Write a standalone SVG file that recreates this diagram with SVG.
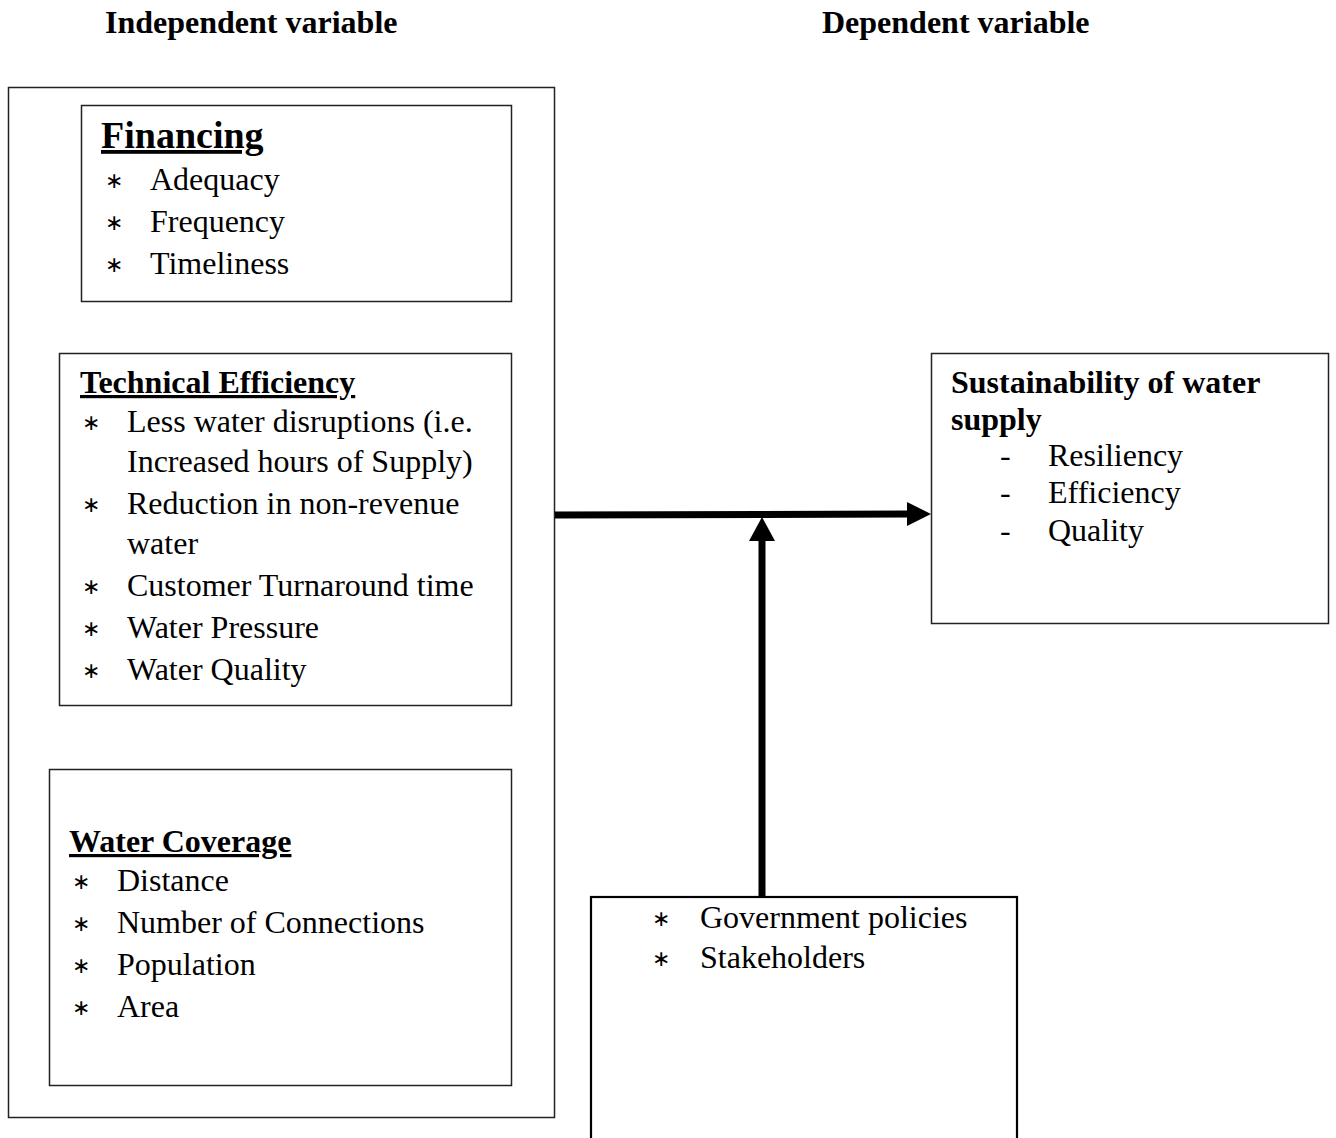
<svg xmlns="http://www.w3.org/2000/svg" width="1336" height="1138" viewBox="0 0 1336 1138">
<style>
text{font-family:"Liberation Serif","Times New Roman",serif;fill:#000}
.t{font-size:32px}
.s{font-size:22px}
.h{font-size:32px;font-weight:bold}
.u{font-weight:bold;text-decoration:underline}
.box{fill:#fff;stroke:#222;stroke-width:1.5}
.mbox{fill:#fff;stroke:#000;stroke-width:2.2}
.conn{stroke:#000;stroke-width:7;fill:none}
</style>
<rect width="1336" height="1138" fill="#fff"/>
<text class="h" x="105" y="33">Independent variable</text>
<text class="h" x="822" y="33">Dependent variable</text>
<g id="independent">
<rect class="box" x="8.5" y="87.5" width="546" height="1030"/>
<g id="financing">
<rect class="box" x="81.5" y="105.5" width="430" height="196"/>
<text class="u" x="101" y="148" font-size="38">Financing</text>
<text class="s" x="105" y="188">∗</text><text class="t" x="150" y="190">Adequacy</text>
<text class="s" x="105" y="230">∗</text><text class="t" x="150" y="232">Frequency</text>
<text class="s" x="105" y="272">∗</text><text class="t" x="150" y="274">Timeliness</text>
</g>
<g id="technical">
<rect class="box" x="59.5" y="353.5" width="452" height="352"/>
<text class="u" x="80" y="393" font-size="32">Technical Efficiency</text>
<text class="s" x="82" y="430">∗</text><text class="t" x="127" y="432">Less water disruptions (i.e.</text>
<text class="t" x="127" y="472">Increased hours of Supply)</text>
<text class="s" x="82" y="512">∗</text><text class="t" x="127" y="514">Reduction in non-revenue</text>
<text class="t" x="127" y="554">water</text>
<text class="s" x="82" y="594">∗</text><text class="t" x="127" y="596">Customer Turnaround time</text>
<text class="s" x="82" y="636">∗</text><text class="t" x="127" y="638">Water Pressure</text>
<text class="s" x="82" y="678">∗</text><text class="t" x="127" y="680">Water Quality</text>
</g>
<g id="coverage">
<rect class="box" x="49.5" y="769.5" width="462" height="316"/>
<text class="u" x="69" y="852" font-size="32">Water Coverage</text>
<text class="s" x="72" y="889">∗</text><text class="t" x="117" y="891">Distance</text>
<text class="s" x="72" y="931">∗</text><text class="t" x="117" y="933">Number of Connections</text>
<text class="s" x="72" y="973">∗</text><text class="t" x="117" y="975">Population</text>
<text class="s" x="72" y="1015">∗</text><text class="t" x="117" y="1017">Area</text>
</g>
</g>
<g id="dependent">
<rect class="box" x="931.5" y="353.5" width="397" height="270"/>
<text class="h" x="951" y="393">Sustainability of water</text>
<text class="h" x="951" y="430">supply</text>
<text class="t" x="1000" y="466">-</text><text class="t" x="1048" y="466">Resiliency</text>
<text class="t" x="1000" y="503">-</text><text class="t" x="1048" y="503">Efficiency</text>
<text class="t" x="1000" y="541">-</text><text class="t" x="1048" y="541">Quality</text>
</g>
<g id="moderating">
<rect class="mbox" x="591" y="897" width="426" height="260"/>
<text class="s" x="652" y="926">∗</text><text class="t" x="700" y="928">Government policies</text>
<text class="s" x="652" y="966">∗</text><text class="t" x="700" y="968">Stakeholders</text>
</g>
<g id="connectors">
<line class="conn" x1="555" y1="515" x2="909" y2="514"/>
<polygon points="907,502 931,514 907,526" fill="#000"/>
<line class="conn" x1="762" y1="896" x2="762" y2="538"/>
<polygon points="749,541 762,517 775,541" fill="#000"/>
</g>
</svg>
